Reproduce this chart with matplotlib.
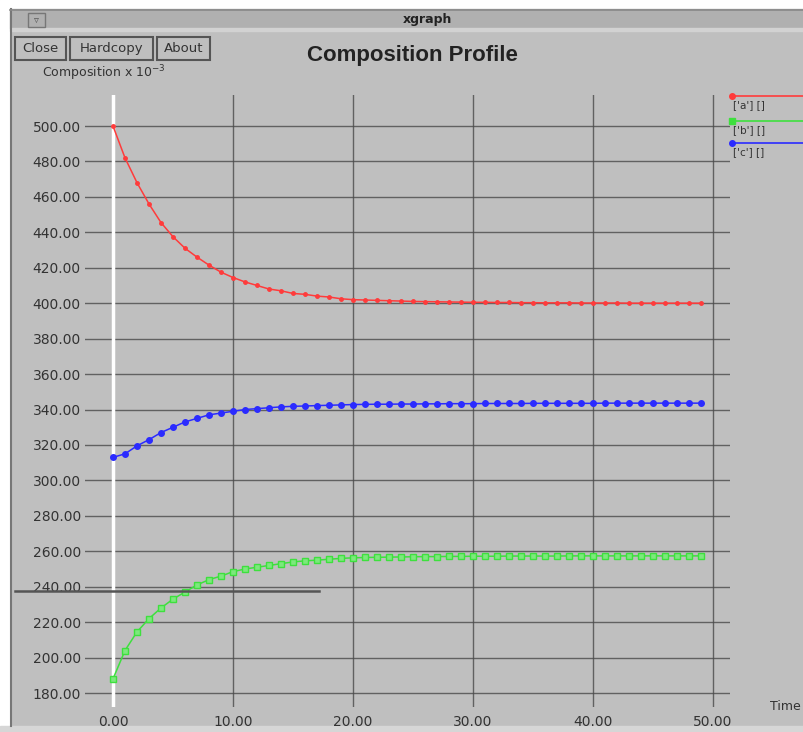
import matplotlib
matplotlib.use('Agg')
import matplotlib.pyplot as plt
from matplotlib.patches import Rectangle
from matplotlib.lines import Line2D

# composition profile (units of 1e-3)
time = list(range(50))
comp_a = [500.0, 482.0, 468.0, 456.0, 445.5, 437.5, 431.0, 426.0, 421.5, 417.5,
          414.5, 412.0, 410.0, 408.0, 407.0, 405.5, 405.0, 404.0, 403.5, 402.5,
          402.0, 401.8, 401.6, 401.4, 401.2, 401.0, 400.9, 400.8, 400.7, 400.6,
          400.5, 400.5, 400.4, 400.4, 400.3, 400.3, 400.2, 400.2, 400.2, 400.1,
          400.1, 400.1, 400.1, 400.0, 400.0, 400.0, 400.0, 400.0, 400.0, 400.0]
comp_b = [188.0, 204.0, 214.5, 222.0, 228.0, 233.0, 237.0, 241.0, 244.0, 246.0,
          248.5, 250.0, 251.0, 252.0, 253.0, 254.0, 254.6, 255.0, 255.5, 256.0,
          256.3, 256.5, 256.6, 256.7, 256.8, 256.9, 257.0, 257.0, 257.1, 257.1,
          257.2, 257.2, 257.2, 257.3, 257.3, 257.3, 257.3, 257.3, 257.4, 257.4,
          257.4, 257.4, 257.4, 257.4, 257.4, 257.4, 257.4, 257.4, 257.4, 257.4]
comp_c = [313.0, 315.0, 319.5, 323.0, 327.0, 330.0, 333.0, 335.0, 337.0, 338.0,
          339.0, 340.0, 340.5, 341.0, 341.5, 341.8, 342.0, 342.2, 342.4, 342.6,
          342.8, 342.9, 343.0, 343.0, 343.1, 343.1, 343.2, 343.2, 343.3, 343.3,
          343.3, 343.4, 343.4, 343.4, 343.4, 343.5, 343.5, 343.5, 343.5, 343.5,
          343.5, 343.6, 343.6, 343.6, 343.6, 343.6, 343.6, 343.6, 343.6, 343.6]
series_labels = ["['a'] []", "['b'] []", "['c'] []"]
series_colors = ['#ff3b3b', '#3ee03e', '#2b2bff']
yticks = [180, 200, 220, 240, 260, 280, 300, 320, 340, 360, 380, 400, 420, 440, 460, 480, 500]
xticks = [0, 10, 20, 30, 40, 50]

W, H = 804, 732
BG = '#bfbfbf'
fig = plt.figure(figsize=(W / 100, H / 100), dpi=100, facecolor=BG)

# window chrome drawn in pixel coords
chrome = fig.add_axes([0, 0, 1, 1], zorder=0)
chrome.set_xlim(0, W)
chrome.set_ylim(H, 0)
chrome.axis('off')
chrome.add_patch(Rectangle((0, 0), W, 9, color='white'))
chrome.add_patch(Rectangle((0, 0), 10, H, color='white'))
chrome.add_patch(Rectangle((10, 9), W, 19, color='#b0b0b0'))
chrome.add_patch(Rectangle((10, 28), W, 3, color='#d2d2d2'))
chrome.add_patch(Rectangle((0, 726), W, 6, color='#d6d6d6'))
chrome.plot([11, 11], [9, 726], color='#777777', lw=1.5)
chrome.plot([10, W], [9.5, 9.5], color='#888888', lw=1.2)
chrome.add_patch(Rectangle((28, 13), 17, 14, fill=False, ec='#777777', lw=1))
chrome.text(36.5, 20, '\u25bf', ha='center', va='center', fontsize=7, color='#555555')
chrome.text(428, 20, 'xgraph', ha='center', va='center', fontsize=9,
            fontweight='bold', color='#222222')

for label, x0, x1 in [('Close', 15, 66), ('Hardcopy', 70, 153), ('About', 157, 210)]:
    chrome.add_patch(Rectangle((x0, 37), x1 - x0, 23, fill=False, ec='#555555', lw=1.5))
    chrome.text((x0 + x1) / 2, 48.5, label, ha='center', va='center', fontsize=9.5,
                color='#333333')

chrome.text(412, 56, 'Composition Profile', ha='center', va='center', fontsize=16,
            fontweight='bold', family='Liberation Sans', color='#222222')
chrome.text(42, 73, 'Composition x 10$^{-3}$', ha='left', va='center', fontsize=9,
            color='#333333')
chrome.text(770, 707, 'Time', ha='left', va='center', fontsize=9, color='#333333')

# plot area: 0 -> px 113, 12 px per unit; 500 -> px 126, 1.772 px per unit
L, R, T, B = 85, 730, 95, 707
ax = fig.add_axes([L / W, 1 - B / H, (R - L) / W, (B - T) / H], zorder=1)
ax.patch.set_alpha(0)
ax.set_xlim((L - 113) / 12.0, (R - 113) / 12.0)
ax.set_ylim(500 - (B - 126) / 1.772, 500 - (T - 126) / 1.772)
for s in ax.spines.values():
    s.set_visible(False)
ax.set_xticks(xticks)
ax.set_yticks(yticks)
ax.set_xticklabels([f'{v:.2f}' for v in xticks])
ax.set_yticklabels([f'{v:.2f}' for v in yticks])
ax.tick_params(length=0, labelsize=10, colors='#333333', pad=3)
ax.tick_params(axis='x', pad=6)
ax.grid(True, color='#4a4a4a', lw=1.0, alpha=0.8)
ax.set_axisbelow(True)
ax.axvline(0, color='white', lw=2.5, zorder=1.5)

ax.plot(time, comp_a, color=series_colors[0], lw=1.1, marker='o', ms=2.5, zorder=3)
ax.plot(time, comp_c, color=series_colors[2], lw=1.1, marker='o', ms=4, zorder=3)
ax.plot(time, comp_b, color=series_colors[1], lw=1.1, marker='s', ms=4,
        mfc='#7de87d', mec=series_colors[1], zorder=3)

# legend at right edge, xgraph style
for i, (lab, col) in enumerate(zip(series_labels, series_colors)):
    ly = [96, 121, 143][i]
    mk = ['o', 's', 'o'][i]
    fig.add_artist(Line2D([731, W], [ly, ly], color=col, lw=1.2,
                          transform=chrome.transData))
    fig.add_artist(Line2D([732], [ly], color=col, marker=mk, ms=4,
                          transform=chrome.transData))
    chrome.text(733, ly + 9, lab, ha='left', va='center', fontsize=7.5, color='#333333')

# stray dark line left over in the screenshot
fig.add_artist(Line2D([15, 319], [591, 591], color='#555555', lw=1.8,
                      transform=chrome.transData))

fig.savefig('out.png', dpi=100, facecolor=BG)
